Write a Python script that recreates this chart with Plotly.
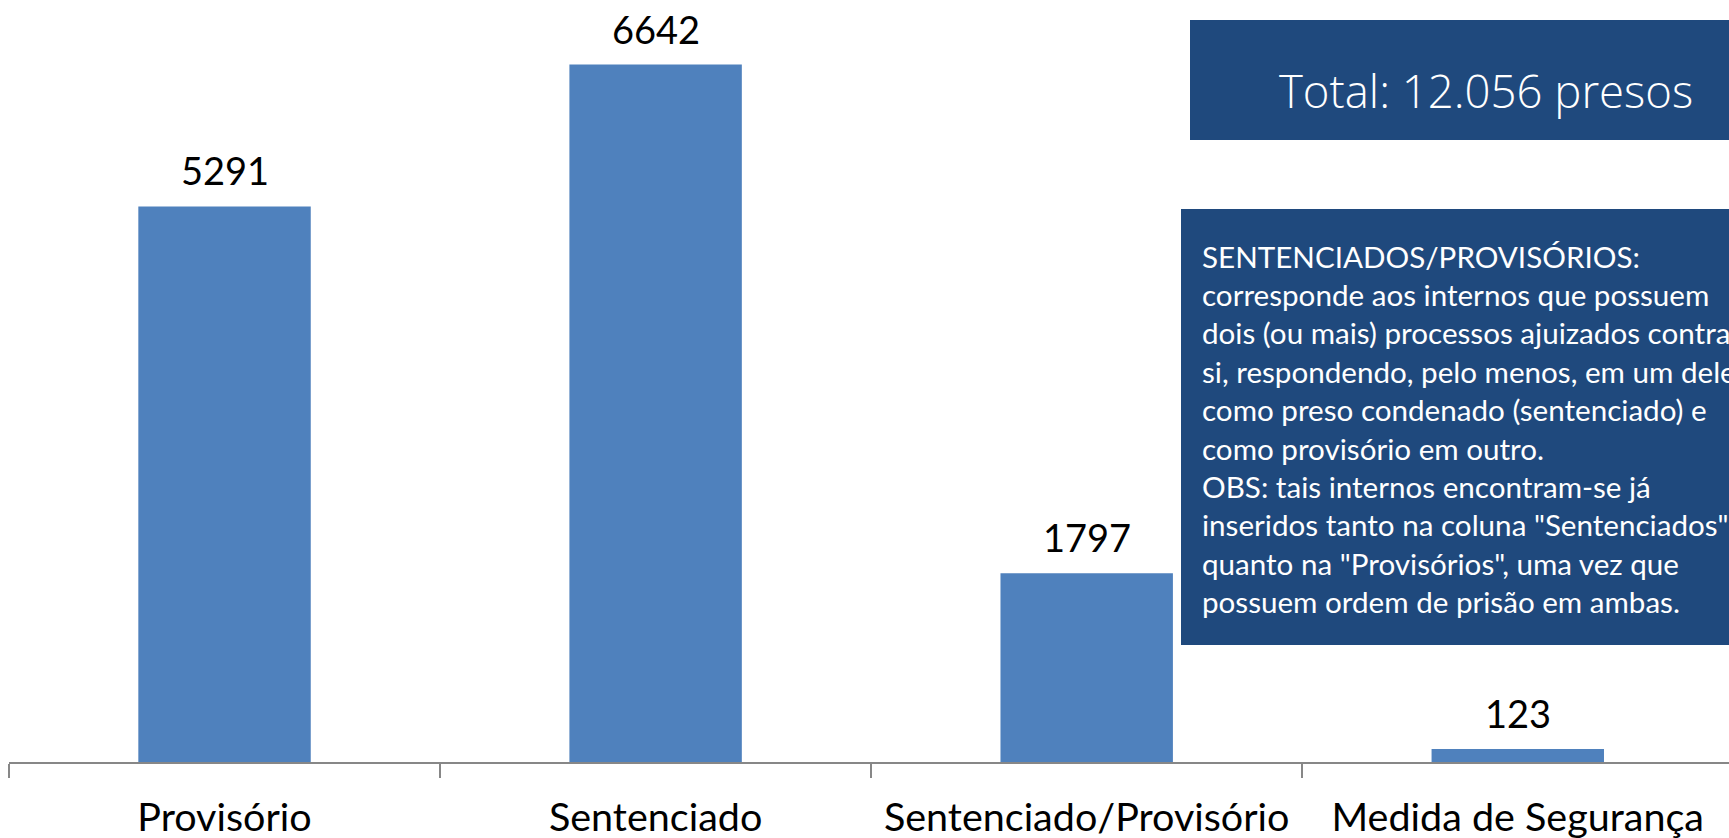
import plotly.graph_objects as go

categories = ["Provisório", "Sentenciado", "Sentenciado/Provisório", "Medida de Segurança"]
values = [5291, 6642, 1797, 123]
value_labels = ["5291", "6642", "1797", "123"]

total_text = "Total: 12.056 presos"
note_lines = [
    "SENTENCIADOS/PROVISÓRIOS:",
    "corresponde aos internos que possuem",
    "dois (ou mais) processos ajuizados contra",
    "si, respondendo, pelo menos, em um deles",
    "como preso condenado (sentenciado) e",
    "como provisório em outro.",
    "OBS: tais internos encontram-se já",
    "inseridos tanto na coluna \"Sentenciados\"",
    "quanto na \"Provisórios\", uma vez que",
    "possuem ordem de prisão em ambas.",
]

W, H = 1729, 838
ML, MR, MT, MB = 9, 0, 0, 76
PW, PH = W - ML - MR, H - MT - MB


def px(x):
    return (x - ML) / PW


def py(y):
    return (H - MB - y) / PH


fig = go.Figure()
fig.add_trace(go.Bar(
    x=categories,
    y=values,
    width=0.4,
    marker=dict(color="#4F81BD", line=dict(width=0)),
    hoverinfo="skip",
))

shapes = [
    dict(type="rect", xref="paper", yref="paper",
         x0=px(1190), x1=px(1740), y0=py(140), y1=py(20),
         fillcolor="#1F497D", line=dict(width=0), layer="above"),
    dict(type="rect", xref="paper", yref="paper",
         x0=px(1181), x1=px(1740), y0=py(645), y1=py(209),
         fillcolor="#1F497D", line=dict(width=0), layer="above"),
]

annotations = []
for c, v, t in zip(categories, values, value_labels):
    annotations.append(dict(
        x=c, y=v, xref="x", yref="y", text=t, showarrow=False,
        yanchor="middle", xanchor="center", yshift=36,
        font=dict(family="Lato", size=38, color="#000000"),
    ))

annotations.append(dict(
    text=total_text, xref="paper", yref="paper",
    x=px(1277), y=py(90), xanchor="left", yanchor="middle",
    showarrow=False,
    font=dict(family="Open Sans", size=45.5, color="#FFFFFF", weight=300),
))
for i, line in enumerate(note_lines):
    annotations.append(dict(
        text=line, xref="paper", yref="paper",
        x=px(1200), y=py(256 + i * 38.4), xanchor="left", yanchor="middle",
        showarrow=False,
        font=dict(family="Lato", size=29.6, color="#FFFFFF"),
    ))

fig.update_layout(
    width=W, height=H,
    margin=dict(l=ML, r=MR, t=MT, b=MB, pad=0),
    paper_bgcolor="#FFFFFF",
    plot_bgcolor="#FFFFFF",
    showlegend=False,
    shapes=shapes,
    annotations=annotations,
    xaxis=dict(
        range=[-0.5, 3.49],
        showline=True, linecolor="#878787", linewidth=2,
        ticks="outside", tickson="boundaries", ticklen=14, tickwidth=2, tickcolor="#878787",
        showgrid=False, zeroline=False,
        tickfont=dict(family="Lato", size=39.5, color="#000000"),
        automargin=False,
        ticklabelstandoff=20,
    ),
    yaxis=dict(
        range=[0, 7257],
        visible=False, showgrid=False, zeroline=False,
        automargin=False,
    ),
)

fig.write_html(
    "out.html",
    config={"displayModeBar": False},
    post_script="document.body.style.margin='0';document.body.style.overflow='hidden';"
                "document.documentElement.style.overflow='hidden';",
)
